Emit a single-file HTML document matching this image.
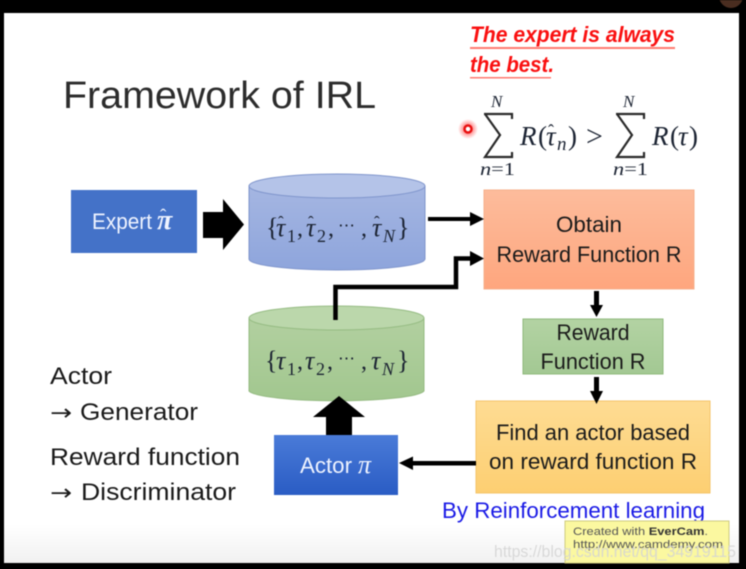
<!DOCTYPE html>
<html>
<head>
<meta charset="utf-8">
<style>
html,body{margin:0;padding:0;background:#000;width:746px;height:569px;overflow:hidden}
svg{display:block;filter:blur(0.45px)}
text{font-family:"Liberation Sans",sans-serif;fill:#1a1a1a}
.m{font-family:"Liberation Serif",serif;font-style:italic;fill:#1c2433}
.s{font-family:"Liberation Serif",serif;fill:#1c2433}
</style>
</head>
<body>
<svg width="746" height="569" viewBox="0 0 746 569" xmlns="http://www.w3.org/2000/svg">
<defs>
<linearGradient id="bg" x1="0" y1="0" x2="0" y2="1"><stop offset="0.93" stop-color="#fff"/><stop offset="1" stop-color="#f1f1f1"/></linearGradient>
<linearGradient id="or" x1="0" y1="0" x2="0" y2="1"><stop offset="0" stop-color="#fdbc9c"/><stop offset="1" stop-color="#fea67e"/></linearGradient>
<linearGradient id="gr" x1="0" y1="0" x2="0" y2="1"><stop offset="0" stop-color="#b3d3a3"/><stop offset="1" stop-color="#a3c893"/></linearGradient>
<linearGradient id="ye" x1="0" y1="0" x2="0" y2="1"><stop offset="0" stop-color="#fedc93"/><stop offset="1" stop-color="#fdcf72"/></linearGradient>
<linearGradient id="bl" x1="0" y1="0" x2="0" y2="1"><stop offset="0" stop-color="#4a7bd8"/><stop offset="1" stop-color="#2a5cc4"/></linearGradient>
<linearGradient id="cb" x1="0" y1="0" x2="0" y2="1"><stop offset="0" stop-color="#a5b6e2"/><stop offset="1" stop-color="#8ea5dc"/></linearGradient>
<linearGradient id="cg" x1="0" y1="0" x2="0" y2="1"><stop offset="0" stop-color="#b2d0a0"/><stop offset="1" stop-color="#a2c78f"/></linearGradient>
<radialGradient id="dot"><stop offset="0.25" stop-color="#ff2020" stop-opacity=".65"/><stop offset="1" stop-color="#ff2020" stop-opacity="0"/></radialGradient>
</defs>

<rect x="4" y="13" width="735" height="550" fill="url(#bg)"/>
<circle cx="731" cy="-4" r="12" fill="#4a2d20"/>

<text x="63" y="108" font-size="38" textLength="313" lengthAdjust="spacingAndGlyphs" style="fill:#2c2c2c">Framework of IRL</text>

<!-- red note -->
<text x="470" y="42" font-size="22" font-weight="bold" font-style="italic" textLength="205" lengthAdjust="spacingAndGlyphs" style="fill:#fa1010">The expert is always</text>
<rect x="470" y="47" width="205" height="2" fill="#ff7a70"/>
<text x="470" y="72" font-size="22" font-weight="bold" font-style="italic" textLength="84" lengthAdjust="spacingAndGlyphs" style="fill:#fa1010">the best.</text>
<rect x="470" y="77" width="81" height="1.5" fill="#ff7a70"/>

<!-- pointer -->
<circle cx="468" cy="129" r="10" fill="url(#dot)"/>
<circle cx="468" cy="129" r="3.5" fill="#fff" stroke="#e81010" stroke-width="2.5"/>

<!-- formula -->
<text class="m" x="491" y="107" font-size="17">N</text>
<path d="M484 114H512V119M485 114L500 135L485 157H512V152" fill="none" stroke="#2b2b2b" stroke-width="2.2"/>
<text class="s" x="480" y="175" font-size="18" textLength="35" lengthAdjust="spacingAndGlyphs"><tspan font-style="italic">n</tspan>=1</text>
<text class="m" x="520" y="145" font-size="27">R</text>
<text class="s" x="538" y="145" font-size="27">(</text>
<text class="m" x="546" y="145" font-size="27">τ</text>
<text class="s" x="548" y="137" font-size="18">ˆ</text>
<text class="m" x="557" y="150" font-size="19">n</text>
<text class="s" x="568" y="145" font-size="27">)</text>
<text class="s" x="586" y="146" font-size="30">&gt;</text>
<text class="m" x="623" y="107" font-size="17">N</text>
<path d="M616 114H644V119M617 114L632 135L617 157H644V152" fill="none" stroke="#2b2b2b" stroke-width="2.2"/>
<text class="s" x="613" y="175" font-size="18" textLength="35" lengthAdjust="spacingAndGlyphs"><tspan font-style="italic">n</tspan>=1</text>
<text class="m" x="652" y="145" font-size="27">R</text>
<text class="s" x="670" y="145" font-size="27">(</text>
<text class="m" x="678" y="145" font-size="27">τ</text>
<text class="s" x="689" y="145" font-size="27">)</text>

<!-- Expert -->
<rect x="71" y="190" width="126" height="63" fill="#4472c8"/>
<text x="92" y="229" font-size="22" textLength="60" lengthAdjust="spacingAndGlyphs" style="fill:#eef3ff">Expert</text>
<text x="157" y="229" font-size="28" font-style="italic" font-weight="bold" style="fill:#eef3ff;font-family:'Liberation Serif',serif">π</text>
<text x="160" y="222" font-size="19" style="fill:#eef3ff;font-family:'Liberation Serif',serif">ˆ</text>
<path d="M203 212H223V199L244 224.5L223 250V238H203Z" fill="#000"/>

<!-- blue cylinder -->
<path d="M249 186V259A88 11 0 0 0 425 259V186Z" fill="url(#cb)" stroke="#7f95cc"/>
<ellipse cx="337" cy="186" rx="88" ry="12" fill="#b4c3e8" stroke="#7f95cc"/>
<text class="s" x="266" y="236" font-size="26">{</text>
<text class="m" x="276" y="236" font-size="26">τ</text>
<text class="s" x="278" y="228" font-size="17">ˆ</text>
<text class="s" x="287" y="242" font-size="18">1</text>
<text class="s" x="297" y="236" font-size="24">,</text>
<text class="m" x="306" y="236" font-size="26">τ</text>
<text class="s" x="308" y="228" font-size="17">ˆ</text>
<text class="s" x="317" y="242" font-size="18">2</text>
<text class="s" x="328" y="236" font-size="24">,</text>
<text class="s" x="338" y="231" font-size="17">⋯</text>
<text class="s" x="361" y="236" font-size="24">,</text>
<text class="m" x="372" y="236" font-size="26">τ</text>
<text class="s" x="374" y="228" font-size="17">ˆ</text>
<text class="m" x="383" y="242" font-size="18">N</text>
<text class="s" x="397" y="236" font-size="26">}</text>

<!-- green cylinder -->
<path d="M249 318V391A88 11 0 0 0 424 391V318Z" fill="url(#cg)" stroke="#95bb82"/>
<ellipse cx="336.5" cy="318" rx="87.5" ry="12" fill="#bbd7ab" stroke="#95bb82"/>
<text class="s" x="265" y="369" font-size="26">{</text>
<text class="m" x="276" y="369" font-size="26">τ</text>
<text class="s" x="287" y="375" font-size="18">1</text>
<text class="s" x="297" y="369" font-size="24">,</text>
<text class="m" x="305" y="369" font-size="26">τ</text>
<text class="s" x="316" y="375" font-size="18">2</text>
<text class="s" x="327" y="369" font-size="24">,</text>
<text class="s" x="338" y="364" font-size="17">⋯</text>
<text class="s" x="361" y="369" font-size="24">,</text>
<text class="m" x="371" y="369" font-size="26">τ</text>
<text class="m" x="382" y="375" font-size="18">N</text>
<text class="s" x="397" y="369" font-size="26">}</text>

<!-- Obtain -->
<rect x="484" y="190" width="210" height="99" fill="url(#or)" stroke="#f6b08c"/>
<text x="589" y="232" font-size="22" text-anchor="middle" textLength="66" lengthAdjust="spacingAndGlyphs">Obtain</text>
<text x="589" y="262" font-size="22" text-anchor="middle" textLength="185" lengthAdjust="spacingAndGlyphs">Reward Function R</text>

<!-- Reward box -->
<rect x="523" y="319" width="140" height="55" fill="url(#gr)" stroke="#8fb97c"/>
<text x="593" y="340" font-size="22" text-anchor="middle" textLength="73" lengthAdjust="spacingAndGlyphs">Reward</text>
<text x="593" y="369" font-size="22" text-anchor="middle" textLength="105" lengthAdjust="spacingAndGlyphs">Function R</text>

<!-- Find actor -->
<rect x="476" y="401" width="234" height="92" fill="url(#ye)" stroke="#f5c469"/>
<text x="593" y="440" font-size="22" text-anchor="middle" textLength="194" lengthAdjust="spacingAndGlyphs">Find an actor based</text>
<text x="593" y="469" font-size="22" text-anchor="middle" textLength="208" lengthAdjust="spacingAndGlyphs">on reward function R</text>

<!-- Connectors -->
<rect x="428" y="217" width="44" height="4" fill="#000"/>
<path d="M470 212L484 219L470 226Z" fill="#000"/>
<path d="M335.500 320V287H456V258.500H472" fill="none" stroke="#000" stroke-width="4.500"/>
<path d="M470 251L484 258.500L470 266Z" fill="#000"/>
<rect x="594" y="291" width="5" height="15" fill="#000"/>
<path d="M590 305H603L596.500 317Z" fill="#000"/>
<rect x="594" y="377" width="5" height="15" fill="#000"/>
<path d="M590 391H603L596.500 404Z" fill="#000"/>

<!-- up arrow -->
<path d="M326 436V417H313L339 396L365 417H352V436Z" fill="#000"/>

<!-- Actor -->
<rect x="274" y="435" width="124" height="60" fill="url(#bl)"/>
<text x="300" y="473" font-size="22" textLength="52" lengthAdjust="spacingAndGlyphs" style="fill:#eef3ff">Actor</text>
<text x="358" y="473" font-size="26" font-style="italic" style="fill:#eef3ff;font-family:'Liberation Serif',serif">π</text>

<rect x="411" y="461" width="65" height="4.500" fill="#000"/>
<path d="M399 463L413 456.500V470Z" fill="#000"/>

<!-- left labels -->
<text x="50" y="384" font-size="24" textLength="62" lengthAdjust="spacingAndGlyphs">Actor</text>
<text x="50" y="420" font-size="22" textLength="22" lengthAdjust="spacingAndGlyphs" style="font-family:'DejaVu Sans',sans-serif">→</text>
<text x="80" y="420" font-size="24" textLength="118" lengthAdjust="spacingAndGlyphs">Generator</text>
<text x="50" y="465" font-size="24" textLength="190" lengthAdjust="spacingAndGlyphs">Reward function</text>
<text x="50" y="500" font-size="22" textLength="22" lengthAdjust="spacingAndGlyphs" style="font-family:'DejaVu Sans',sans-serif">→</text>
<text x="81" y="500" font-size="24" textLength="155" lengthAdjust="spacingAndGlyphs">Discriminator</text>

<!-- By RL -->
<text x="442" y="518" font-size="22" textLength="263" lengthAdjust="spacingAndGlyphs" style="fill:#1a1ae6">By Reinforcement learning</text>

<!-- Evercam -->
<rect x="565" y="521" width="164" height="42" fill="#fbf8a0" stroke="#cfcb80"/>
<text x="573" y="535" font-size="11" textLength="135" lengthAdjust="spacingAndGlyphs" style="fill:#555">Created with <tspan font-weight="bold" style="fill:#333">EverCam</tspan>.</text>
<text x="573" y="548" font-size="11" textLength="150" lengthAdjust="spacingAndGlyphs" style="fill:#555">http://www.camdemy.com</text>

<!-- watermark -->
<text x="494" y="557" font-size="17" textLength="242" lengthAdjust="spacingAndGlyphs" style="fill:#d4d4d4;opacity:.85">https://blog.csdn.net/qq_34919115</text>
</svg>
</body>
</html>
